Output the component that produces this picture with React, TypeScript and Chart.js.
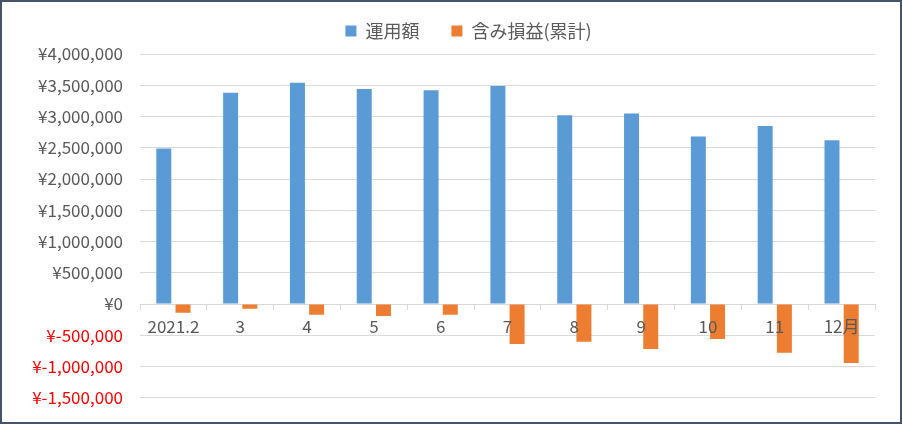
import React, { useEffect, useRef } from "react";
import { Chart, registerables } from "chart.js";

Chart.register(...registerables);

const categories = ["2021.2", "3", "4", "5", "6", "7", "8", "9", "10", "11", "12月"];
const operatingAmount = [2490000, 3380000, 3540000, 3440000, 3420000, 3490000, 3020000, 3050000, 2680000, 2850000, 2620000];
const unrealizedPL = [-140000, -75000, -170000, -190000, -170000, -640000, -605000, -720000, -560000, -780000, -945000];
const seriesNames = ["運用額", "含み損益(累計)"];

const FONT = "'Noto Sans CJK JP', 'Noto Sans', sans-serif";

function fmtYen(v: number): string {
  const s = Math.abs(v).toString().replace(/\B(?=(\d{3})+(?!\d))/g, ",");
  return "¥" + (v < 0 ? "-" : "") + s;
}

const legendTweak = {
  id: "legendTweak",
  beforeLayout(chart: any) {
    const lg = chart.legend;
    if (lg && !lg._gapPatched) {
      const orig = lg.fit.bind(lg);
      lg.fit = function () {
        orig();
        this.height += 4;
      };
      lg._gapPatched = true;
    }
  },
  afterLayout(chart: any) {
    const lg = chart.legend;
    if (lg) {
      lg.left += 30;
      lg.right += 30;
    }
  },
};

export default function App() {
  const ref = useRef<HTMLCanvasElement>(null);
  useEffect(() => {
    document.body.style.margin = "0";
    const chart = new Chart(ref.current!, {
      type: "bar",
      data: {
        labels: categories,
        datasets: [
          {
            label: seriesNames[0],
            data: operatingAmount,
            backgroundColor: "#5B9BD5",
            categoryPercentage: 0.575,
            barPercentage: 0.78,
          },
          {
            label: seriesNames[1],
            data: unrealizedPL,
            backgroundColor: "#ED7D31",
            categoryPercentage: 0.575,
            barPercentage: 0.78,
          },
        ],
      },
      options: {
        animation: false,
        responsive: false,
        maintainAspectRatio: false,
        layout: { padding: { left: 0, right: 25, top: -12, bottom: 0 } },
        plugins: {
          tooltip: { enabled: false },
          legend: {
            position: "top",
            labels: {
              boxWidth: 11,
              boxHeight: 11,
              padding: 32,
              color: "#595959",
              font: { family: FONT, size: 18 },
            },
          },
        },
        scales: {
          x: {
            position: { y: 0 } as any,
            grid: {
              display: true,
              drawOnChartArea: false,
              drawTicks: true,
              tickLength: 5,
              offset: true,
              color: "#D9D9D9",
            },
            border: { display: true, color: "#D9D9D9" },
            ticks: {
              z: 1,
              color: "#595959",
              font: { family: FONT, size: 17 },
              padding: 7,
              maxRotation: 0,
              autoSkip: false,
            },
          },
          y: {
            min: -1500000,
            max: 4000000,
            afterFit: (s: any) => {
              s.width = 138;
            },
            grid: { color: "#D9D9D9", drawTicks: false },
            border: { display: false },
            ticks: {
              stepSize: 500000,
              padding: 17,
              font: { family: FONT, size: 17 },
              color: (c: any) => (c.tick && c.tick.value < 0 ? "#FF0000" : "#595959"),
              callback: (v: any) => fmtYen(Number(v)),
            },
          },
        },
      },
      plugins: [legendTweak],
    });
    return () => chart.destroy();
  }, []);
  return (
    <div
      style={{
        position: "absolute",
        left: 0,
        top: 0,
        width: 902,
        height: 424,
        boxSizing: "border-box",
        border: "2px solid #44546A",
        background: "#fff",
        overflow: "hidden",
      }}
    >
      <canvas ref={ref} width={898} height={423} style={{ display: "block" }} />
    </div>
  );
}
